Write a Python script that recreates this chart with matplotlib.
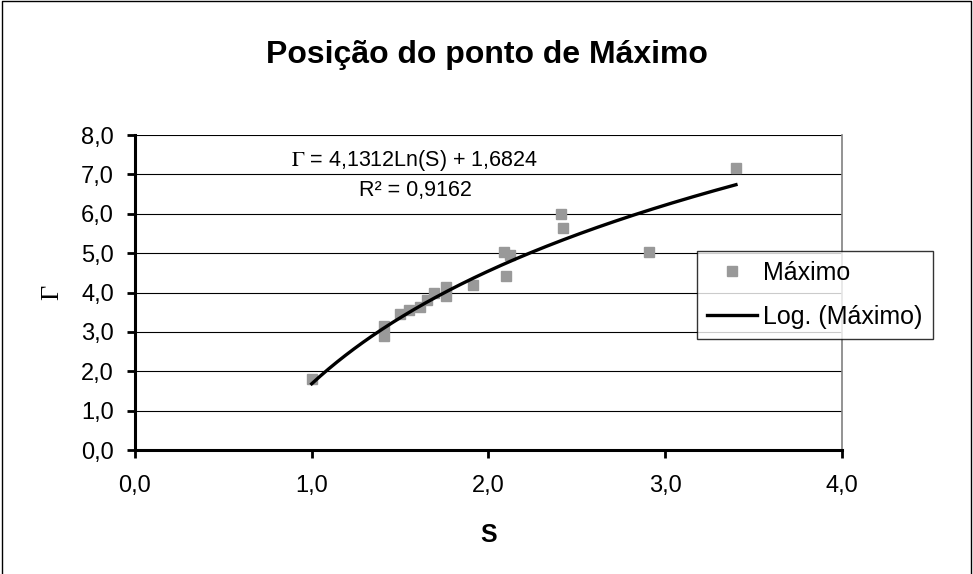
import numpy as np
import matplotlib.pyplot as plt
from matplotlib.lines import Line2D

plt.rcParams['font.family'] = ['Liberation Sans', 'DejaVu Sans']
plt.rcParams['mathtext.fontset'] = 'stix'

# measured points (S, Gamma)
s_vals = [1.00, 1.41, 1.41, 1.50, 1.55, 1.61, 1.65, 1.69, 1.76, 1.76, 1.91,
          2.09, 2.12, 2.10, 2.41, 2.42, 2.91, 3.40]
g_vals = [1.80, 3.15, 2.90, 3.45, 3.55, 3.62, 3.82, 4.00, 4.15, 3.90, 4.18,
          5.03, 4.95, 4.42, 6.00, 5.65, 5.03, 7.17]

# log trendline coefficients
a_coef = 4.1312
b_coef = 1.6824

xticks = [0.0, 1.0, 2.0, 3.0, 4.0]
yticks = [0.0, 1.0, 2.0, 3.0, 4.0, 5.0, 6.0, 7.0, 8.0]

fig = plt.figure(figsize=(9.73, 5.74), dpi=100)
ax = fig.add_axes([0.1387, 0.216, 0.7267, 0.5488])

ax.plot(s_vals, g_vals, 's', color='#999999', markersize=7.5, zorder=3)
xs = np.linspace(min(s_vals), max(s_vals), 200)
ax.plot(xs, a_coef * np.log(xs) + b_coef, color='black', lw=2.4, zorder=4)

ax.set_xlim(0, 4)
ax.set_ylim(0, 8)
ax.set_xticks(xticks)
ax.set_yticks(yticks)
fmt = lambda v: f"{v:.1f}".replace('.', ',')
ax.set_xticklabels([fmt(v) for v in xticks], fontsize=17)
ax.set_yticklabels([fmt(v) for v in yticks], fontsize=17)
ax.tick_params(direction='out', length=6, width=2)
ax.tick_params(axis='x', pad=12)
ax.tick_params(axis='y', pad=9)
ax.yaxis.grid(True, color='black', lw=0.8)
ax.set_axisbelow(True)

for side in ['left', 'bottom']:
    ax.spines[side].set_linewidth(2.2)
    ax.spines[side].set_color('black')
ax.spines['top'].set_visible(False)
ax.spines['right'].set_color('#808080')
ax.spines['right'].set_linewidth(1.2)

ax.set_xlabel('S', fontsize=18, fontweight='bold', labelpad=19)
ax.set_ylabel('Γ', fontsize=19, family='Liberation Serif', labelpad=13)

fig.text(0.5, 1 - 55 / 574, 'Posição do ponto de Máximo', ha='center', va='center',
         fontsize=23, fontweight='bold')

ax.text(1.584, 7.34, r'$\Gamma$ = 4,1312Ln(S) + 1,6824', ha='center', va='center',
        fontsize=15.5)
ax.text(1.587, 6.58, 'R² = 0,9162', ha='center', va='center', fontsize=15.5)

handles = [Line2D([], [], marker='s', ls='none', color='#999999', markersize=7.5),
           Line2D([], [], color='black', lw=2.4)]
leg = ax.legend(handles, ['Máximo', 'Log. (Máximo)'], loc='upper left',
                bbox_to_anchor=(697 / 973, 1 - 251 / 574), bbox_transform=fig.transFigure,
                borderaxespad=0, fontsize=18, frameon=True, fancybox=False,
                handlelength=2.0, handletextpad=0.25, borderpad=0.4, labelspacing=0.8)
leg.get_frame().set_edgecolor('black')
leg.get_frame().set_linewidth(1)
leg.set_zorder(10)

# outer chart border
fig.add_artist(Line2D([0.002, 0.002, 0.998, 0.998], [0.0, 0.998, 0.998, 0.0],
                      transform=fig.transFigure, color='black', lw=1))

fig.savefig('out.png', dpi=100)
